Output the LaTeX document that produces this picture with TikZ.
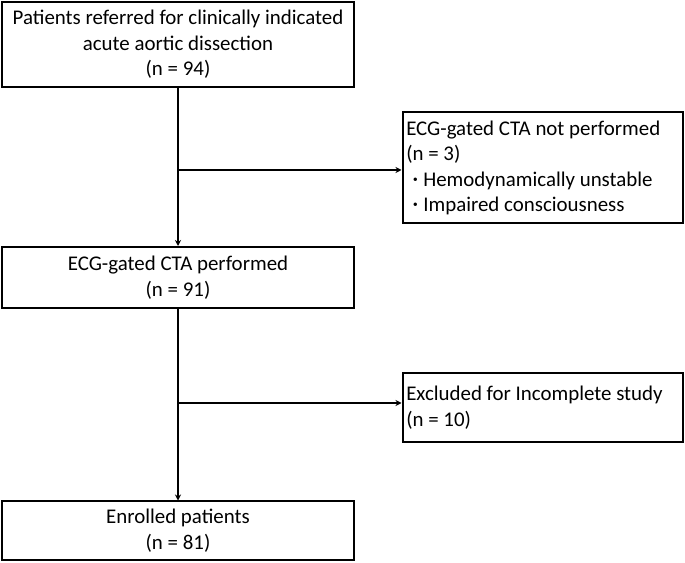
\documentclass[tikz,border=0pt]{standalone}
\usepackage{fontspec}
\setmainfont{Carlito}
\usetikzlibrary{arrows.meta}
\begin{document}
\begin{tikzpicture}[x=1pt,y=1pt,
  every node/.style={font=\fontsize{20.9}{25.5}\selectfont},
  mainbox/.style={draw, line width=2pt, minimum width=352pt, align=center, inner sep=0pt},
  sidebox/.style={draw, line width=2pt, minimum width=280.5pt, text width=273pt, align=flush left, inner xsep=3.75pt, inner ysep=0pt},
  arr/.style={line width=1.5pt, -{Stealth[length=6pt,width=6pt]}}]
\useasboundingbox (0,0) rectangle (685,562);
\node[mainbox, minimum height=85pt] (top) at (178,{562-44.5}) {Patients referred for clinically indicated\\acute aortic dissection\\(n = 94)};
\node[sidebox, minimum height=110.5pt] (r1) at (542.75,{562-167.75}) {ECG-gated CTA not performed\\(n = 3)\\\hspace*{6pt}{\fontsize{24}{25.5}\selectfont·}\hspace{5pt}Hemodynamically unstable\\\hspace*{6pt}{\fontsize{24}{25.5}\selectfont·}\hspace{5pt}Impaired consciousness};
\node[mainbox, minimum height=61pt] (mid) at (178,{562-277.5}) {ECG-gated CTA performed\\(n = 91)};
\node[sidebox, minimum height=69pt] (r2) at (542.75,{562-407.5}) {Excluded for Incomplete study\\(n = 10)};
\node[mainbox, minimum height=58.5pt] (bot) at (178,{562-530.75}) {Enrolled patients\\(n = 81)};
\coordinate (j1) at (178,{562-170});
\coordinate (j2) at (178,{562-403});
\draw[arr] (top.south) -- (mid.north);
\draw[arr] (mid.south) -- (bot.north);
\draw[arr] (j1) -- (j1 -| r1.west);
\draw[arr] (j2) -- (j2 -| r2.west);
\end{tikzpicture}
\end{document}
